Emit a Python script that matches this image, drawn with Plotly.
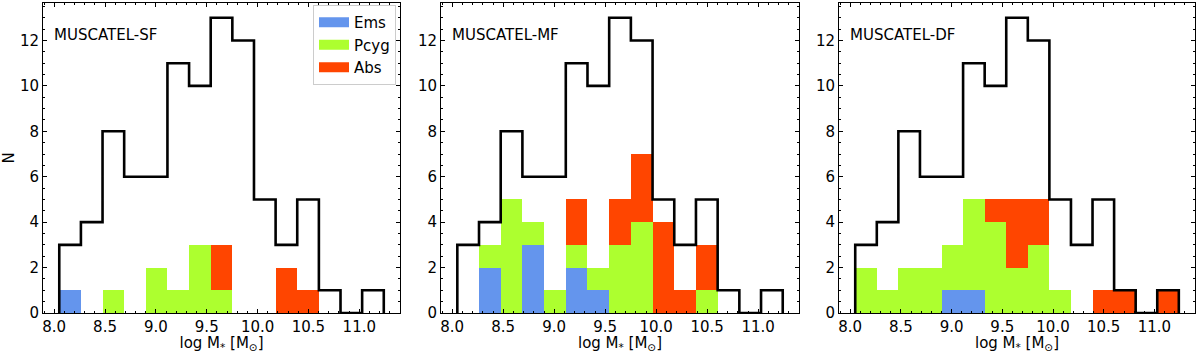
import numpy as np
import plotly.graph_objects as go

# Bin definition (log stellar mass)
bin_start = 8.05
bin_width = 0.2127
n_bins = 15

# Total counts (same in every panel)
total_counts = [3, 4, 8, 6, 6, 11, 10, 13, 12, 5, 3, 5, 1, 0, 1]

panel_names = ["MUSCATEL-SF", "MUSCATEL-MF", "MUSCATEL-DF"]

ems_sf  = [1, 0, 0, 0, 0, 0, 0, 0, 0, 0, 0, 0, 0, 0, 0]
pcyg_sf = [0, 0, 1, 0, 2, 1, 3, 1, 0, 0, 0, 0, 0, 0, 0]
abs_sf  = [0, 0, 0, 0, 0, 0, 0, 2, 0, 0, 2, 1, 0, 0, 0]

ems_mf  = [0, 2, 0, 3, 0, 2, 1, 0, 0, 0, 0, 0, 0, 0, 0]
pcyg_mf = [0, 1, 5, 1, 1, 1, 1, 3, 4, 0, 0, 1, 0, 0, 0]
abs_mf  = [0, 0, 0, 0, 0, 2, 0, 2, 3, 4, 1, 2, 0, 0, 0]

ems_df  = [0, 0, 0, 0, 1, 1, 0, 0, 0, 0, 0, 0, 0, 0, 0]
pcyg_df = [2, 1, 2, 2, 2, 4, 4, 2, 3, 1, 0, 0, 0, 0, 0]
abs_df  = [0, 0, 0, 0, 0, 0, 1, 3, 2, 0, 0, 1, 1, 0, 1]

x_tick_vals = [8.0, 8.5, 9.0, 9.5, 10.0, 10.5, 11.0]
x_tick_text = ["8.0", "8.5", "9.0", "9.5", "10.0", "10.5", "11.0"]
y_tick_vals = [0, 2, 4, 6, 8, 10, 12]

colors = {"Ems": "#6495ED", "Pcyg": "#ADFF2F", "Abs": "#FF4500"}

panels = [
    (ems_sf, pcyg_sf, abs_sf),
    (ems_mf, pcyg_mf, abs_mf),
    (ems_df, pcyg_df, abs_df),
]

edges = bin_start + bin_width * np.arange(n_bins + 1)
centers = 0.5 * (edges[:-1] + edges[1:])

W, H = 1200, 353
ML, MR, MT, MB = 43, 5, 3, 40
PW = W - ML - MR
PH = H - MT - MB


def px_dom(a, b):
    return ((a - ML) / PW, (b - ML) / PW)


x_doms = [px_dom(43, 400), px_dom(441, 799), px_dom(839, 1195)]

fig = go.Figure()
font = "DejaVu Sans, Liberation Sans, sans-serif"

for i, (ems, pcyg, ab) in enumerate(panels):
    xa = "x" if i == 0 else f"x{i+1}"
    ya = "y" if i == 0 else f"y{i+1}"
    for name, vals in (("Ems", ems), ("Pcyg", pcyg), ("Abs", ab)):
        fig.add_trace(go.Bar(
            x=centers, y=vals, width=bin_width, name=name,
            marker=dict(color=colors[name], line=dict(width=0)),
            xaxis=xa, yaxis=ya, legendgroup=name, showlegend=False,
        ))
    # step outline
    sx = [edges[0]]
    sy = [0]
    for k in range(n_bins):
        sx += [edges[k], edges[k + 1]]
        sy += [total_counts[k], total_counts[k]]
    sx.append(edges[-1])
    sy.append(0)
    fig.add_trace(go.Scatter(
        x=sx, y=sy, mode="lines", line=dict(color="black", width=2.6),
        xaxis=xa, yaxis=ya, showlegend=False, hoverinfo="skip",
    ))
    fig.add_annotation(
        text=panel_names[i], xref=f"{xa} domain", yref=f"{ya} domain",
        x=0.025, y=0.897, xanchor="left", yanchor="middle", showarrow=False,
        font=dict(family=font, size=15, color="black"),
    )

# legend patches (wide rectangles like the reference)
for name in ("Ems", "Pcyg", "Abs"):
    fig.add_trace(go.Scatter(
        x=[None], y=[None], mode="lines", name=name,
        line=dict(color=colors[name], width=11),
        legendgroup=name, showlegend=True, xaxis="x", yaxis="y",
    ))

axis_common = dict(
    showline=True, linecolor="black", linewidth=1, mirror="allticks",
    ticks="inside", ticklen=4, tickwidth=1, tickcolor="black",
    showgrid=False, zeroline=False, automargin=False,
    tickfont=dict(family=font, size=15, color="black"),
)

layout = dict(
    width=W, height=H, margin=dict(l=ML, r=MR, t=MT, b=MB),
    plot_bgcolor="white", paper_bgcolor="white", barmode="stack", bargap=0,
    font=dict(family=font, size=14, color="black"),
    legend=dict(
        x=(396 - ML) / PW, y=1 - 2 / PH, xanchor="right", yanchor="top",
        bgcolor="white", bordercolor="#cccccc", borderwidth=1,
        font=dict(family=font, size=15), traceorder="normal",
        itemwidth=30, tracegroupgap=0,
    ),
    showlegend=True,
)

for i in range(3):
    xk = "xaxis" if i == 0 else f"xaxis{i+1}"
    yk = "yaxis" if i == 0 else f"yaxis{i+1}"
    ya = "y" if i == 0 else f"y{i+1}"
    xa = "x" if i == 0 else f"x{i+1}"
    layout[xk] = dict(
        axis_common, domain=x_doms[i], range=[7.89, 11.40], anchor=ya,
        tickvals=x_tick_vals, ticktext=x_tick_text,
        minor=dict(dtick=0.1, ticks="inside", ticklen=2, tickcolor="black"),
        title=dict(text="log M<sub>*</sub> [M<sub>⊙</sub>]", standoff=2,
                   font=dict(family=font, size=15)),
    )
    layout[yk] = dict(
        axis_common, domain=[0, 1], range=[0, 13.65], anchor=xa,
        tickvals=y_tick_vals,
        minor=dict(dtick=0.5, ticks="inside", ticklen=2, tickcolor="black"),
        title=dict(text="N" if i == 0 else "", standoff=10,
                   font=dict(family=font, size=15)),
    )

fig.update_layout(**layout)

fig.write_html(
    "out.html",
    config={"displayModeBar": False},
    post_script="document.body.style.margin='0';document.body.style.overflow='hidden';",
)
